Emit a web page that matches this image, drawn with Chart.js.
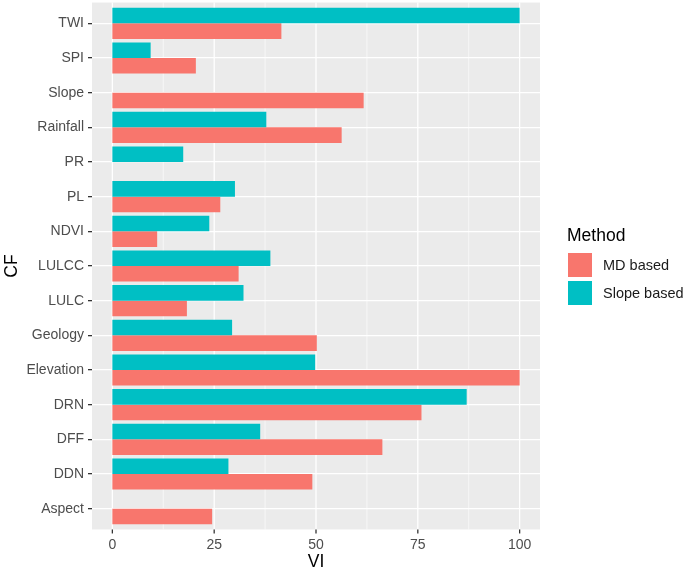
<!DOCTYPE html>
<html>
<head>
<meta charset="utf-8">
<script src="https://cdn.jsdelivr.net/npm/chart.js@4"></script>
<style>
  html, body { margin: 0; padding: 0; background: #fff; }
  #wrap { position: relative; width: 685px; height: 573px; font-family: "Liberation Sans", Arial, sans-serif; }
  #legend { position: absolute; left: 567px; top: 223px; color: #000; }
  #legend .title { font-size: 17.5px; height: 28px; line-height: 24px; }
  #legend .item { display: flex; align-items: center; height: 28px; font-size: 14.5px; color: #1a1a1a; }
  #legend .sw { width: 26px; height: 26px; margin-right: 10px; box-sizing: border-box; border: 1px solid #fff; }
</style>
</head>
<body>
<div id="wrap">
  <canvas id="chart" width="685" height="573"></canvas>
  <div id="legend"></div>
</div>
<script>
// data
const categories = ['TWI', 'SPI', 'Slope', 'Rainfall', 'PR', 'PL', 'NDVI', 'LULCC', 'LULC', 'Geology', 'Elevation', 'DRN', 'DFF', 'DDN', 'Aspect'];
const mdBased    = [41.5, 20.5, 61.7, 56.3, 0, 26.5, 11.0, 31.0, 18.3, 50.2, 100, 75.9, 66.3, 49.1, 24.5];
const slopeBased = [100, 9.4, 0, 37.8, 17.4, 30.1, 23.8, 38.8, 32.2, 29.4, 49.8, 87.0, 36.3, 28.5, 0];
const xTicks     = [0, 12.5, 25, 37.5, 50, 62.5, 75, 87.5, 100];
const majorTicks = [0, 25, 50, 75, 100];

const MD_COLOR = '#F8766D';
const SLOPE_COLOR = '#00BFC4';
const isMajor = v => majorTicks.includes(v);

// ggplot pads a discrete axis by 0.6 of a step, chart.js by 0.5: stretch the panel a bit
const extra = chart => (chart.chartArea.bottom - chart.chartArea.top) / categories.length * 0.1;

const panel = {
  id: 'panel',
  beforeDraw(chart) {
    const { ctx, chartArea: a } = chart;
    const e = extra(chart);
    const x = chart.scales.x;
    ctx.save();
    ctx.fillStyle = '#EBEBEB';
    ctx.fillRect(a.left, a.top - e, a.right - a.left, a.bottom - a.top + 2 * e);
    xTicks.forEach(v => {
      const px = x.getPixelForValue(v);
      ctx.strokeStyle = '#FFFFFF';
      ctx.lineWidth = isMajor(v) ? 1.3 : 0.6;
      ctx.beginPath();
      ctx.moveTo(px, a.top - e);
      ctx.lineTo(px, a.bottom + e);
      ctx.stroke();
    });
    ctx.restore();
  },
  afterDraw(chart) {
    // x tick marks under the stretched panel
    const { ctx, chartArea: a } = chart;
    const y0 = a.bottom + extra(chart);
    const x = chart.scales.x;
    ctx.save();
    ctx.strokeStyle = '#333333';
    ctx.lineWidth = 1.3;
    majorTicks.forEach(v => {
      const px = x.getPixelForValue(v);
      ctx.beginPath();
      ctx.moveTo(px, y0);
      ctx.lineTo(px, y0 + 4);
      ctx.stroke();
    });
    ctx.restore();
  }
};

new Chart(document.getElementById('chart').getContext('2d'), {
  type: 'bar',
  data: {
    labels: categories,
    datasets: [
      { label: 'Slope based', data: slopeBased, backgroundColor: SLOPE_COLOR },
      { label: 'MD based', data: mdBased, backgroundColor: MD_COLOR }
    ]
  },
  options: {
    indexAxis: 'y',
    responsive: false,
    animation: false,
    categoryPercentage: 0.9,
    barPercentage: 1.0,
    layout: { padding: { left: 0, right: 145, top: 6, bottom: 0 } },
    plugins: { legend: { display: false }, tooltip: { enabled: false } },
    scales: {
      x: {
        min: -5,
        max: 105,
        afterBuildTicks: s => { s.ticks = xTicks.map(v => ({ value: v })); },
        afterFit: s => { s.height = 47; s.paddingLeft = 0; s.paddingRight = 0; },
        border: { display: false },
        grid: { display: false, drawTicks: false },
        ticks: {
          autoSkip: false,
          maxRotation: 0,
          padding: 11,
          color: '#4D4D4D',
          font: { family: 'Liberation Sans', size: 14 },
          callback: v => isMajor(v) ? String(v) : ''
        },
        title: {
          display: true,
          text: 'VI',
          color: '#000',
          font: { family: 'Liberation Sans', size: 17.5 },
          padding: { top: 0, bottom: 0 }
        }
      },
      y: {
        afterFit: s => { s.width = 92; s.paddingTop = 0; s.paddingBottom = 0; },
        border: { display: false },
        grid: {
          offset: false,
          color: '#FFFFFF',
          lineWidth: 1.3,
          tickColor: '#333333',
          tickLength: 4
        },
        ticks: {
          autoSkip: false,
          padding: 4,
          color: '#4D4D4D',
          font: { family: 'Liberation Sans', size: 14 }
        },
        title: {
          display: true,
          text: 'CF',
          color: '#000',
          font: { family: 'Liberation Sans', size: 17.5 },
          padding: { top: 2, bottom: 0 }
        }
      }
    }
  },
  plugins: [panel]
});

// legend in ggplot order
const legend = document.getElementById('legend');
legend.innerHTML = '<div class="title">Method</div>' +
  [['MD based', MD_COLOR], ['Slope based', SLOPE_COLOR]].map(([name, col]) =>
    '<div class="item"><div class="sw" style="background:' + col + '"></div>' + name + '</div>').join('');
</script>
</body>
</html>
